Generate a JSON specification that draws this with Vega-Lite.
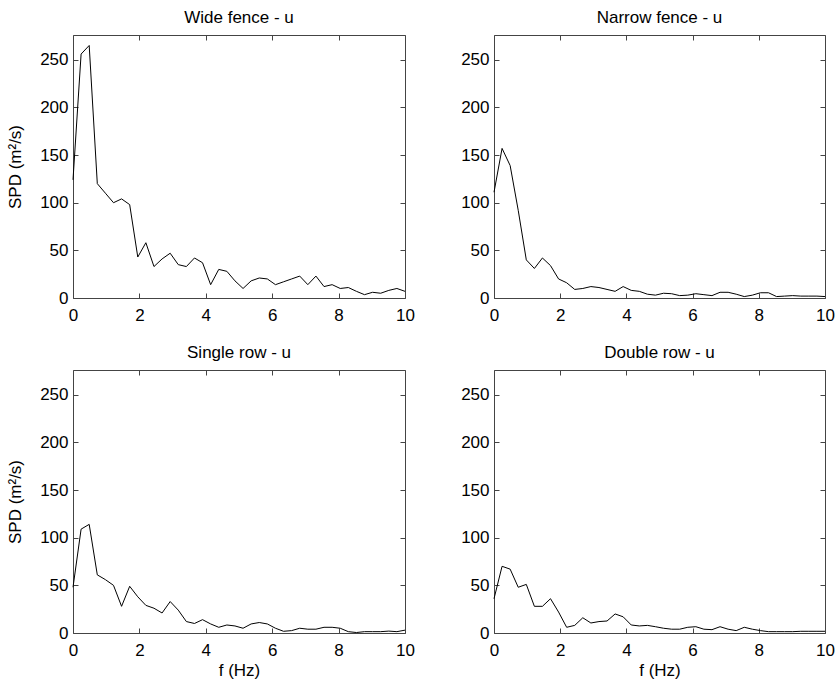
{
  "$schema": "https://vega.github.io/schema/vega-lite/v6.json",
  "autosize": {"type": "pad"},
  "padding": {"left": 6, "top": 8, "right": 5, "bottom": 5},
  "background": "white",
  "bounds": "flush",
  "columns": 2,
  "spacing": {"row": 72, "column": 89},
  "config": {
    "view": {"stroke": null},
    "font": "Liberation Sans",
    "title": {"font": "Liberation Sans", "fontSize": 17, "fontWeight": "normal", "color": "black", "offset": 8},
    "axis": {"labelFont": "Liberation Sans", "labelFontSize": 17, "labelColor": "black", "titleFont": "Liberation Sans", "titleFontSize": 17, "titleFontWeight": "normal", "titleColor": "black", "domainColor": "#444", "tickColor": "#444", "tickSize": -5, "grid": false, "labelFlush": false, "labelOverlap": false},
    "axisX": {"labelPadding": 14, "titlePadding": 4},
    "axisY": {"labelPadding": 10, "titlePadding": 15}
  },
  "data": {"values": [
    {"f": 0, "wide": 124, "narrow": 111, "single": 48, "double": 36},
    {"f": 0.244, "wide": 256, "narrow": 157, "single": 109, "double": 70},
    {"f": 0.488, "wide": 265, "narrow": 139, "single": 114, "double": 67},
    {"f": 0.732, "wide": 120, "narrow": 92, "single": 61, "double": 48},
    {"f": 0.976, "wide": 110, "narrow": 40, "single": 56, "double": 51},
    {"f": 1.22, "wide": 100, "narrow": 31, "single": 50, "double": 28},
    {"f": 1.463, "wide": 104, "narrow": 42, "single": 28, "double": 28},
    {"f": 1.707, "wide": 98, "narrow": 34, "single": 49, "double": 36},
    {"f": 1.951, "wide": 43, "narrow": 20, "single": 38, "double": 22},
    {"f": 2.195, "wide": 58, "narrow": 16, "single": 29, "double": 6},
    {"f": 2.439, "wide": 33, "narrow": 9, "single": 26, "double": 8},
    {"f": 2.683, "wide": 41, "narrow": 10, "single": 21, "double": 16},
    {"f": 2.927, "wide": 47, "narrow": 12, "single": 33, "double": 10.5},
    {"f": 3.171, "wide": 35, "narrow": 11, "single": 24, "double": 12},
    {"f": 3.415, "wide": 33, "narrow": 9, "single": 12, "double": 12.6},
    {"f": 3.659, "wide": 42, "narrow": 7, "single": 10, "double": 20},
    {"f": 3.902, "wide": 37, "narrow": 12, "single": 14, "double": 17},
    {"f": 4.146, "wide": 14, "narrow": 8, "single": 9.5, "double": 8.4},
    {"f": 4.39, "wide": 30, "narrow": 7, "single": 6, "double": 7.4},
    {"f": 4.634, "wide": 28, "narrow": 4, "single": 8.4, "double": 8},
    {"f": 4.878, "wide": 18, "narrow": 3, "single": 7.4, "double": 6.6},
    {"f": 5.122, "wide": 10, "narrow": 5, "single": 5, "double": 5},
    {"f": 5.366, "wide": 18, "narrow": 4.5, "single": 9.5, "double": 4},
    {"f": 5.61, "wide": 21, "narrow": 2.5, "single": 11, "double": 4},
    {"f": 5.854, "wide": 20, "narrow": 3, "single": 9.5, "double": 6},
    {"f": 6.098, "wide": 14, "narrow": 4.5, "single": 5, "double": 6.6},
    {"f": 6.341, "wide": 17, "narrow": 3.5, "single": 1.8, "double": 4},
    {"f": 6.585, "wide": 20, "narrow": 2.5, "single": 2.5, "double": 3.5},
    {"f": 6.829, "wide": 23, "narrow": 6, "single": 5, "double": 6.6},
    {"f": 7.073, "wide": 14, "narrow": 6, "single": 4, "double": 4},
    {"f": 7.317, "wide": 23, "narrow": 4, "single": 4, "double": 2.5},
    {"f": 7.561, "wide": 12, "narrow": 1.5, "single": 6, "double": 6},
    {"f": 7.805, "wide": 14, "narrow": 3, "single": 6, "double": 4},
    {"f": 8.049, "wide": 10, "narrow": 5.5, "single": 5, "double": 2.5},
    {"f": 8.293, "wide": 11, "narrow": 5.5, "single": 1.4, "double": 1.4},
    {"f": 8.537, "wide": 7, "narrow": 1.5, "single": 0.5, "double": 1.4},
    {"f": 8.78, "wide": 3.5, "narrow": 2, "single": 1.4, "double": 1.4},
    {"f": 9.024, "wide": 6, "narrow": 2.5, "single": 1.4, "double": 1.4},
    {"f": 9.268, "wide": 5, "narrow": 2, "single": 1.4, "double": 1.8},
    {"f": 9.512, "wide": 8, "narrow": 2, "single": 2, "double": 1.8},
    {"f": 9.756, "wide": 10, "narrow": 2, "single": 1.4, "double": 1.8},
    {"f": 10, "wide": 7, "narrow": 1.5, "single": 3, "double": 1.8}
  ]},
  "concat": [
    {
      "title": "Wide fence - u",
      "width": 332, "height": 263,
      "resolve": {"scale": {"x": "independent", "y": "independent"}},
      "layer": [
        {"mark": {"type": "line", "color": "black", "strokeWidth": 1},
         "encoding": {
           "x": {"field": "f", "type": "quantitative", "scale": {"domain": [0, 10], "nice": false}, "axis": {"orient": "bottom", "values": [0, 2, 4, 6, 8, 10], "title": null}},
           "y": {"field": "wide", "type": "quantitative", "scale": {"domain": [0, 276], "nice": false}, "axis": {"orient": "left", "values": [0, 50, 100, 150, 200, 250], "title": "SPD (m²/s)"}}}},
        {"mark": {"type": "line", "strokeOpacity": 0},
         "encoding": {
           "x": {"field": "f", "type": "quantitative", "scale": {"domain": [0, 10], "nice": false}, "axis": {"orient": "top", "values": [0, 2, 4, 6, 8, 10], "labels": false, "title": null}},
           "y": {"field": "wide", "type": "quantitative", "scale": {"domain": [0, 276], "nice": false}, "axis": {"orient": "right", "values": [0, 50, 100, 150, 200, 250], "labels": false, "title": null}}}}
      ]
    },
    {
      "title": "Narrow fence - u",
      "width": 331, "height": 263,
      "resolve": {"scale": {"x": "independent", "y": "independent"}},
      "layer": [
        {"mark": {"type": "line", "color": "black", "strokeWidth": 1},
         "encoding": {
           "x": {"field": "f", "type": "quantitative", "scale": {"domain": [0, 10], "nice": false}, "axis": {"orient": "bottom", "values": [0, 2, 4, 6, 8, 10], "title": null}},
           "y": {"field": "narrow", "type": "quantitative", "scale": {"domain": [0, 276], "nice": false}, "axis": {"orient": "left", "values": [0, 50, 100, 150, 200, 250], "title": null}}}},
        {"mark": {"type": "line", "strokeOpacity": 0},
         "encoding": {
           "x": {"field": "f", "type": "quantitative", "scale": {"domain": [0, 10], "nice": false}, "axis": {"orient": "top", "values": [0, 2, 4, 6, 8, 10], "labels": false, "title": null}},
           "y": {"field": "narrow", "type": "quantitative", "scale": {"domain": [0, 276], "nice": false}, "axis": {"orient": "right", "values": [0, 50, 100, 150, 200, 250], "labels": false, "title": null}}}}
      ]
    },
    {
      "title": "Single row - u",
      "width": 332, "height": 263,
      "resolve": {"scale": {"x": "independent", "y": "independent"}},
      "layer": [
        {"mark": {"type": "line", "color": "black", "strokeWidth": 1},
         "encoding": {
           "x": {"field": "f", "type": "quantitative", "scale": {"domain": [0, 10], "nice": false}, "axis": {"orient": "bottom", "values": [0, 2, 4, 6, 8, 10], "title": "f (Hz)"}},
           "y": {"field": "single", "type": "quantitative", "scale": {"domain": [0, 276], "nice": false}, "axis": {"orient": "left", "values": [0, 50, 100, 150, 200, 250], "title": "SPD (m²/s)"}}}},
        {"mark": {"type": "line", "strokeOpacity": 0},
         "encoding": {
           "x": {"field": "f", "type": "quantitative", "scale": {"domain": [0, 10], "nice": false}, "axis": {"orient": "top", "values": [0, 2, 4, 6, 8, 10], "labels": false, "title": null}},
           "y": {"field": "single", "type": "quantitative", "scale": {"domain": [0, 276], "nice": false}, "axis": {"orient": "right", "values": [0, 50, 100, 150, 200, 250], "labels": false, "title": null}}}}
      ]
    },
    {
      "title": "Double row - u",
      "width": 331, "height": 263,
      "resolve": {"scale": {"x": "independent", "y": "independent"}},
      "layer": [
        {"mark": {"type": "line", "color": "black", "strokeWidth": 1},
         "encoding": {
           "x": {"field": "f", "type": "quantitative", "scale": {"domain": [0, 10], "nice": false}, "axis": {"orient": "bottom", "values": [0, 2, 4, 6, 8, 10], "title": "f (Hz)"}},
           "y": {"field": "double", "type": "quantitative", "scale": {"domain": [0, 276], "nice": false}, "axis": {"orient": "left", "values": [0, 50, 100, 150, 200, 250], "title": null}}}},
        {"mark": {"type": "line", "strokeOpacity": 0},
         "encoding": {
           "x": {"field": "f", "type": "quantitative", "scale": {"domain": [0, 10], "nice": false}, "axis": {"orient": "top", "values": [0, 2, 4, 6, 8, 10], "labels": false, "title": null}},
           "y": {"field": "double", "type": "quantitative", "scale": {"domain": [0, 276], "nice": false}, "axis": {"orient": "right", "values": [0, 50, 100, 150, 200, 250], "labels": false, "title": null}}}}
      ]
    }
  ]
}
